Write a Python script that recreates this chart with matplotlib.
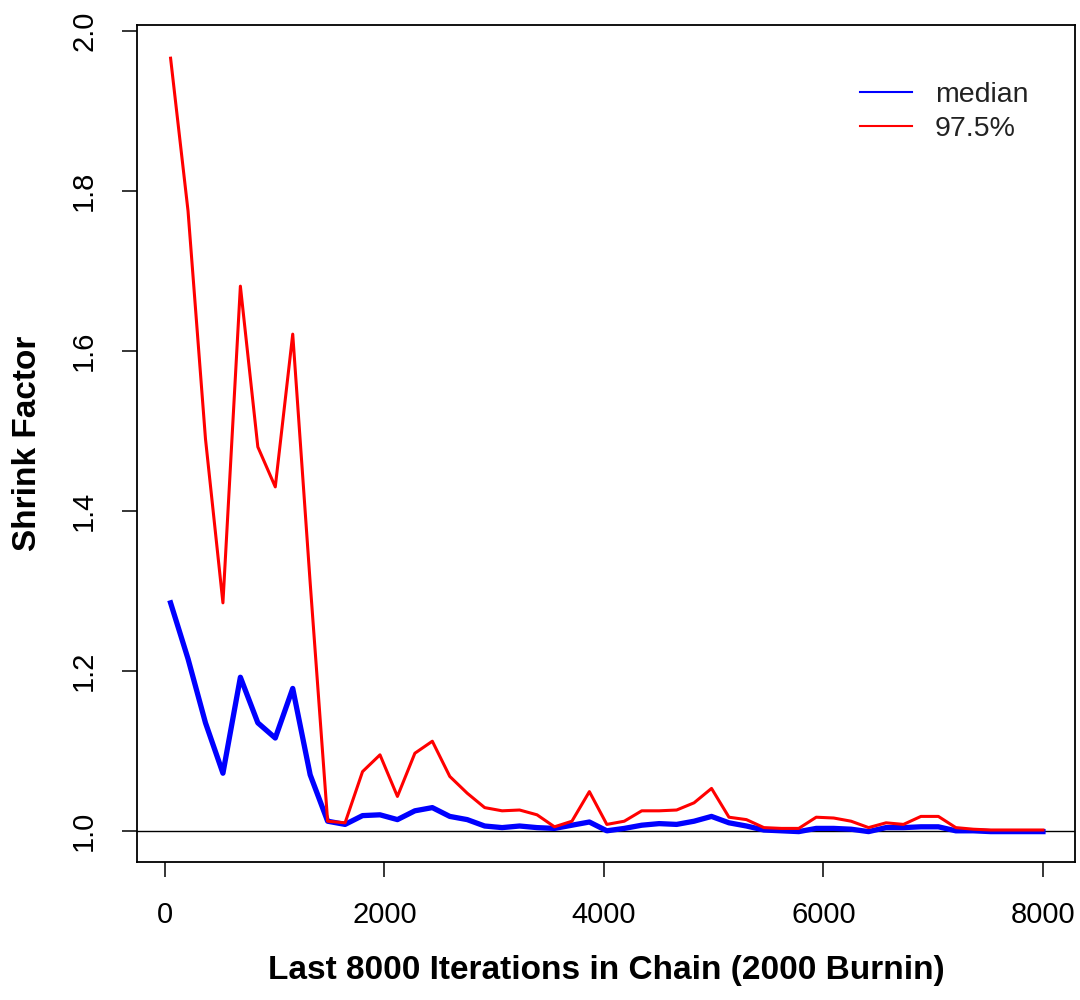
import matplotlib
matplotlib.use("Agg")
import matplotlib.pyplot as plt
from matplotlib import font_manager

# ---- data ----
last_iter = [51, 210, 369, 528, 687, 846, 1005, 1164, 1323, 1482, 1641, 1800,
             1959, 2118, 2277, 2436, 2595, 2754, 2913, 3072, 3231, 3390, 3549,
             3708, 3867, 4026, 4185, 4344, 4503, 4662, 4821, 4980, 5139, 5298,
             5457, 5616, 5775, 5934, 6093, 6252, 6411, 6570, 6729, 6888, 7047,
             7206, 7365, 7524, 7683, 7842, 8000]
q975 = [1.966, 1.775, 1.49, 1.285, 1.681, 1.48, 1.43, 1.621, 1.31, 1.012,
        1.010, 1.074, 1.095, 1.043, 1.097, 1.112, 1.068, 1.047, 1.029, 1.025,
        1.026, 1.020, 1.005, 1.012, 1.049, 1.008, 1.012, 1.025, 1.025, 1.026,
        1.035, 1.053, 1.017, 1.014, 1.004, 1.003, 1.003, 1.017, 1.016, 1.012,
        1.004, 1.010, 1.008, 1.018, 1.018, 1.004, 1.002, 1.001, 1.001, 1.001,
        1.001]
median = [1.285, 1.215, 1.135, 1.072, 1.192, 1.135, 1.116, 1.178, 1.07, 1.012,
          1.008, 1.019, 1.020, 1.014, 1.025, 1.029, 1.018, 1.014, 1.006, 1.004,
          1.006, 1.004, 1.003, 1.007, 1.011, 1.000, 1.003, 1.007, 1.009, 1.008,
          1.012, 1.018, 1.010, 1.006, 1.001, 1.000, 0.999, 1.003, 1.003, 1.002,
          0.999, 1.004, 1.004, 1.005, 1.005, 1.000, 1.000, 0.999, 0.999, 0.999,
          0.999]
xticks = [0, 2000, 4000, 6000, 8000]
yticks = [1.0, 1.2, 1.4, 1.6, 1.8, 2.0]
ytick_labels = ["1.0", "1.2", "1.4", "1.6", "1.8", "2.0"]
legend_labels = ["median", "97.5%"]
xlabel = "Last 8000 Iterations in Chain (2000 Burnin)"
ylabel = "Shrink Factor"

# ---- font ----
names = {f.name for f in font_manager.fontManager.ttflist}
fam = "Liberation Sans Narrow" if "Liberation Sans Narrow" in names else "Liberation Sans"
plt.rcParams['font.family'] = [fam, 'DejaVu Sans']

fig = plt.figure(figsize=(10.8, 10.0), dpi=100)
ax = fig.add_axes([137/1080, 1 - 862/1000, (1075-137)/1080, (862-25)/1000])

ax.plot(last_iter, median, color="#0000ff", lw=3.8, solid_joinstyle='round',
        label=legend_labels[0])
ax.plot(last_iter, q975, color="#ff0000", lw=2.2, solid_joinstyle='round',
        label=legend_labels[1])
ax.axhline(1.0, color="black", lw=1.0, zorder=0)

ax.set_xlim(-255, 8292)
ax.set_ylim(0.961, 2.0075)
ax.set_xticks(xticks)
ax.set_xticklabels([str(t) for t in xticks])
ax.set_yticks(yticks)
ax.set_yticklabels(ytick_labels, rotation=90, va='center')
ax.tick_params(axis='both', direction='out', length=11, width=1.1,
               labelsize=21, pad=17, color='black')
for sp in ax.spines.values():
    sp.set_linewidth(1.3)

ax.set_xlabel(xlabel, fontsize=24, fontweight='bold')
ax.xaxis.set_label_coords(0.5, (862 - 970) / 837)
ax.xaxis.label.set_va('center')
ax.set_ylabel(ylabel, fontsize=24, fontweight='bold')
ax.yaxis.set_label_coords((28 - 137) / 938, 0.5)
ax.yaxis.label.set_va('center')

handles = [plt.Line2D([], [], color="#0000ff", lw=1.5),
           plt.Line2D([], [], color="#ff0000", lw=1.5)]
leg = ax.legend(handles, legend_labels, loc='upper left',
                bbox_to_anchor=((860 - 137) / 938, (862 - 82) / 837),
                frameon=False, fontsize=20.5, handlelength=1.83,
                handletextpad=0.8, labelspacing=0.28, borderpad=0,
                borderaxespad=0)
for t in leg.get_texts():
    t.set_color("#222222")

fig.savefig("out.png", dpi=100)
